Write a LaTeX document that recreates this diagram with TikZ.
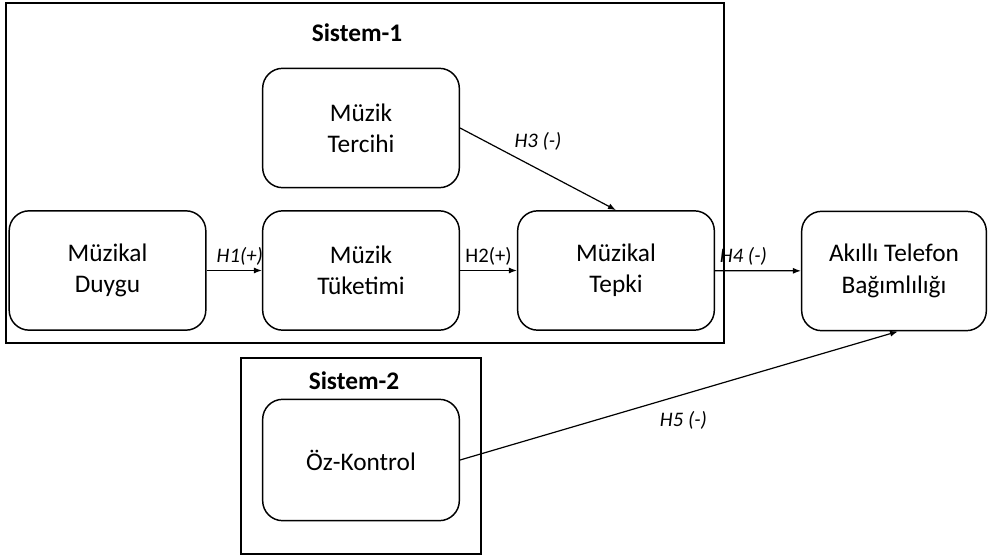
\documentclass[tikz,border=0pt]{standalone}
\usepackage{fontspec}
\setmainfont{Carlito}
\usetikzlibrary{arrows.meta,positioning}

\tikzset{
  faktor/.style={draw, rounded corners=15pt, line width=1.1pt, align=center,
    minimum width=147.5pt, minimum height=89.5pt, inner sep=0pt,
    font=\fontsize{19}{23.5}\selectfont},
  sistem/.style={draw, line width=1.1pt},
  baslik/.style={font=\fontsize{19}{23}\selectfont\bfseries},
  etiket/.style={font=\fontsize{15.5}{18}\selectfont\itshape},
  ok/.style={line width=0.9pt, -{Latex[length=6pt,width=4.5pt]}}
}

\begin{document}
\begin{tikzpicture}[x=0.75pt,y=-0.75pt]
\useasboundingbox (0,0) rectangle (988,556);
%%%%%%%%%%%%%%%% Sistem-1
\draw[sistem] (6,3) rectangle (724,343);
\node[baslik] (sistem1) at (357,33) {Sistem-1};
\node[faktor] (tercih) at (361,128) {Müzik\\Tercihi};
\node[faktor] (duygu) at (107.5,270.5) {Müzikal\\Duygu};
\node[faktor] (tuketim) at (361,270.5) {Müzik\\Tüketimi};
\node[faktor] (tepki) at (616,270.5) {Müzikal\\Tepki};
%%%%%%%%%%%%%%%%
\node[faktor, minimum width=138.5pt] (akilli) at (894,271) {Akıllı Telefon\\Bağımlılığı};
%%%%%%%%%%%%%%%% Sistem-2
\draw[sistem] (241,358) rectangle (481,554);
\node[baslik] (sistem2) at (354,381) {Sistem-2};
\node[faktor, minimum height=91pt] (oz) at (361,460) {Öz-Kontrol};
%%%%%%%%%%%%%%%% hipotezler
\draw[ok] (duygu) -- node[etiket, pos=0.6, above] {H1(+)} (tuketim);
\draw[ok] (tuketim) -- node[etiket, font=\fontsize{15.5}{18}\selectfont, above] {H2(+)} (tepki);
\draw[ok] (tercih.east) -- node[etiket, above=10pt] {H3 (-)} (tepki.north);
\draw[ok] (tepki) -- node[etiket, pos=0.33, above] {H4 (-)} (akilli);
\draw[ok] (oz.east) -- node[etiket, pos=0.51, below=9pt] {H5 (-)} ([xshift=3pt]akilli.south);
\end{tikzpicture}
\end{document}
